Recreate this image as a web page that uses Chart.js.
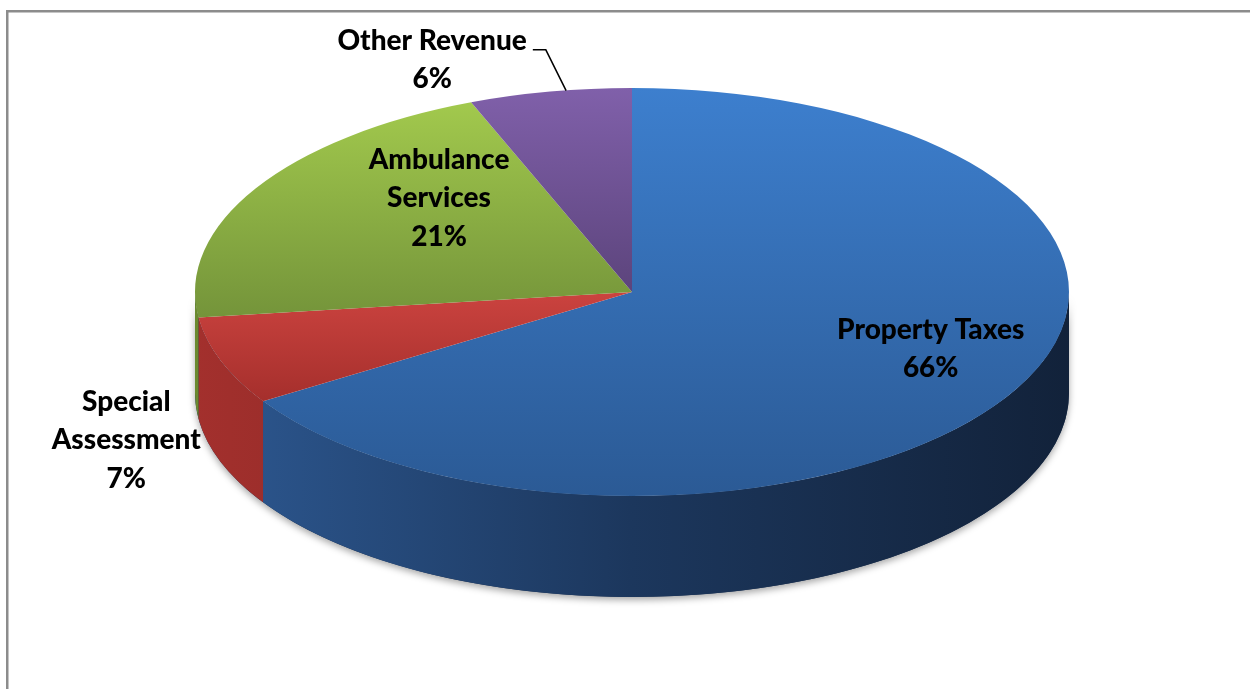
<!DOCTYPE html>
<html lang="en">

<head>
    <meta charset="UTF-8">
    <title>Revenue Sources</title>
    <script src="https://cdn.jsdelivr.net/npm/chart.js"></script>
    <style>
        body {
            margin: 0;
            padding: 0;
            background: #fff;
        }

        canvas {
            display: block;
        }
    </style>
</head>

<body>
    <canvas id="revenuePie" width="1250" height="689"></canvas>

    <script>
        // revenue split, clockwise from 12 o'clock
        const categories = ['Property Taxes', 'Special Assessment', 'Ambulance Services', 'Other Revenue'];
        const shares = [66, 7, 21, 6];
        const labelLines = [['Property Taxes'], ['Special', 'Assessment'], ['Ambulance', 'Services'], ['Other Revenue']];

        // face colours (light at top, dark at bottom) and side wall colours
        const topLight = ['#3d7fce', '#cb433f', '#a2c94d', '#8060aa'];
        const topDark = ['#2b5a95', '#a52f2c', '#74943a', '#5c447c'];
        const wallLeft = ['#2d5891', '#a3302d', '#6a8a2f', '#5a4279'];
        const wallRight = ['#12223a', '#7e2321', '#4d6522', '#3f2e57'];

        // flattening of the disc and thickness of the rim
        const stretchX = 1.748;
        const stretchY = 0.816;
        const depth = 101;

        // label placement: fraction of radius along the slice middle, then a nudge
        const labelRadius = [0.78, 1.23, 0.513, 1.0];
        const labelNudge = [[0, -20], [0, 63], [0, -41], [-118, -32]];
        const hasLeader = [false, false, false, true];
        const lineHeight = 38.5;
        const capHalf = 9.5;

        const canvas = document.getElementById('revenuePie');
        const ctx = canvas.getContext('2d');

        const total = shares.reduce((a, b) => a + b, 0);

        // vertical span of slice i on the unsquashed disc, used to fit its gradient
        function sliceSpan(i, cy, r) {
            const before = shares.slice(0, i).reduce((a, b) => a + b, 0);
            const a0 = -Math.PI / 2 + 2 * Math.PI * before / total;
            const a1 = a0 + 2 * Math.PI * shares[i] / total;
            const pts = [a0, a1];
            [Math.PI / 2, 3 * Math.PI / 2].forEach(a => {
                if (a > a0 && a < a1) pts.push(a);
            });
            let lo = cy, hi = cy;
            pts.forEach(a => {
                const py = cy + r * Math.sin(a);
                lo = Math.min(lo, py);
                hi = Math.max(hi, py);
            });
            return [lo, hi];
        }

        function faceColor(c) {
            const i = c.dataIndex;
            const area = c.chart.chartArea;
            if (!area) return topLight[i];
            const cy = (area.top + area.bottom) / 2;
            const r = Math.min(area.right - area.left, area.bottom - area.top) / 2;
            const [lo, hi] = sliceSpan(i, cy, r);
            const g = c.chart.ctx.createLinearGradient(0, lo, 0, hi);
            g.addColorStop(0, topLight[i]);
            g.addColorStop(1, topDark[i]);
            return g;
        }

        const frame = {
            id: 'frame',
            beforeDraw(chart) {
                const c = chart.ctx;
                c.save();
                c.fillStyle = '#8c8c8c';
                c.fillRect(6, 10, chart.width, 2.5);
                c.fillRect(6, 10, 2.5, chart.height);
                c.restore();
            }
        };

        // squash the pie into a tilted disc and give it a rim
        const tilt = {
            id: 'tilt',
            beforeDatasetsDraw(chart) {
                const c = chart.ctx;
                const arcs = chart.getDatasetMeta(0).data;
                const { x, y, outerRadius: r } = arcs[0];
                c.save();
                c.translate(x, y);
                c.scale(stretchX, stretchY);
                c.translate(-x, -y);

                const d = depth / stretchY;

                // soft shadow under the rim
                c.save();
                c.shadowColor = 'rgba(0,0,0,0.35)';
                c.shadowBlur = 7;
                c.shadowOffsetY = 3;
                c.fillStyle = '#1a2f50';
                c.beginPath();
                c.arc(x, y, r, 0, Math.PI);
                c.arc(x, y + d, r, Math.PI, 0, true);
                c.closePath();
                c.fill();
                c.restore();

                arcs.forEach((arc, i) => {
                    const s = Math.max(arc.startAngle, 0);
                    const e = Math.min(arc.endAngle, Math.PI);
                    if (s >= e) return;
                    const g = c.createLinearGradient(x - r, 0, x + r, 0);
                    g.addColorStop(0, wallLeft[i]);
                    g.addColorStop(0.5, i === 0 ? '#1c375d' : wallRight[i]);
                    g.addColorStop(1, wallRight[i]);
                    c.fillStyle = g;
                    c.beginPath();
                    c.arc(x, y, r, s, e);
                    c.arc(x, y + d, r, e, s, true);
                    c.closePath();
                    c.fill();
                });
            },
            afterDatasetsDraw(chart) {
                chart.ctx.restore();
            }
        };

        const sliceLabels = {
            id: 'sliceLabels',
            afterDraw(chart) {
                const c = chart.ctx;
                const arcs = chart.getDatasetMeta(0).data;
                c.save();
                c.font = '900 28px Lato';
                c.fillStyle = '#000';
                c.textAlign = 'center';
                c.textBaseline = 'alphabetic';
                arcs.forEach((arc, i) => {
                    const mid = (arc.startAngle + arc.endAngle) / 2;
                    const rx = arc.outerRadius * stretchX;
                    const ry = arc.outerRadius * stretchY;
                    const ax = arc.x + rx * labelRadius[i] * Math.cos(mid);
                    const ay = arc.y + ry * labelRadius[i] * Math.sin(mid);
                    const cx = ax + labelNudge[i][0];
                    const cy = ay + labelNudge[i][1];
                    const lines = labelLines[i].concat([Math.round(shares[i] / total * 100) + '%']);
                    const base = cy - (lines.length - 1) * lineHeight / 2 + capHalf;
                    lines.forEach((t, k) => c.fillText(t, cx, base + k * lineHeight));

                    if (hasLeader[i]) {
                        const half = c.measureText(lines[0]).width / 2;
                        c.strokeStyle = '#000';
                        c.lineWidth = 1.5;
                        c.beginPath();
                        c.moveTo(cx + half + 6, base);
                        c.lineTo(cx + half + 19, base);
                        c.lineTo(ax + 16, ay - 1);
                        c.stroke();
                    }
                });
                c.restore();
            }
        };

        const chart = new Chart(ctx, {
            type: 'pie',
            data: {
                labels: categories,
                datasets: [{
                    data: shares,
                    backgroundColor: faceColor,
                    borderWidth: 0,
                    clip: false
                }]
            },
            options: {
                responsive: false,
                animation: false,
                events: [],
                layout: {
                    padding: { left: 382, right: 368, top: 42, bottom: 147 }
                },
                plugins: {
                    legend: { display: false },
                    tooltip: { enabled: false }
                }
            },
            plugins: [frame, tilt, sliceLabels]
        });
    </script>

</body>

</html>
